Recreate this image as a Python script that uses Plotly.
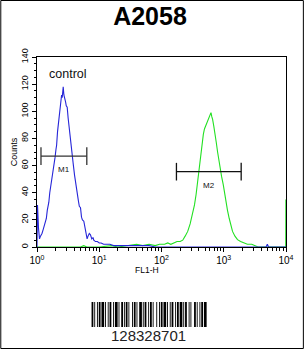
import plotly.graph_objects as go

# ---- data (log10 of FL1-H, counts) ----
control_log = [0.000, 0.008, 0.024, 0.040, 0.056, 0.080, 0.100, 0.112, 0.130, 0.150, 0.165, 0.176,
               0.190, 0.205, 0.219, 0.235, 0.250, 0.272, 0.290, 0.305, 0.315, 0.330, 0.345, 0.352,
               0.365, 0.380, 0.395, 0.405, 0.413, 0.421, 0.432, 0.445, 0.459, 0.470, 0.485, 0.500,
               0.515, 0.528, 0.545, 0.565, 0.580, 0.603, 0.620, 0.645, 0.665, 0.680, 0.699, 0.715,
               0.730, 0.752, 0.770, 0.790, 0.805, 0.820, 0.840, 0.859, 0.880, 0.900, 0.912, 0.940,
               0.970, 1.000, 1.030, 1.070, 1.120, 1.170, 1.230, 1.300, 1.400, 1.500, 1.600, 1.700,
               1.800, 1.900, 2.500, 3.680, 3.700, 3.720, 4.000]
control_counts = [0, 31, 14, 6, 8, 10, 13, 15, 17, 21, 27, 29,
                  33, 40, 44, 50, 55, 58, 66, 72, 75, 85, 92, 95,
                  100, 107, 112, 110, 116, 118, 112, 110, 107, 104, 103, 95,
                  88, 83, 76, 68, 62, 53, 47, 38, 34, 30, 29, 22,
                  20, 19, 14, 10, 6, 8, 10, 9, 6, 7, 5, 4,
                  4, 3, 3, 2, 2, 2, 1, 1, 1, 1, 1, 1,
                  1, 0, 0, 0, 2, 0, 0]

sample_log = [0.0, 0.70, 0.75, 0.80, 1.00, 1.20, 1.30, 1.50, 1.60, 1.70, 1.80, 1.90, 1.968,
              2.05, 2.10, 2.15, 2.208, 2.25, 2.30, 2.341, 2.38, 2.421, 2.46, 2.501, 2.53, 2.555,
              2.575, 2.597, 2.615, 2.635, 2.655, 2.672, 2.69, 2.715, 2.735, 2.757, 2.775, 2.795,
              2.808, 2.821, 2.84, 2.864, 2.88, 2.901, 2.92, 2.944, 2.965, 2.992, 3.01, 3.035,
              3.06, 3.088, 3.115, 3.141, 3.18, 3.221, 3.27, 3.328, 3.38, 3.45, 3.50, 3.55,
              3.996, 3.998]
sample_counts = [0, 0, 1, 0, 0, 1, 0, 1, 2, 1, 2, 1, 2,
                 2, 3, 2, 3, 4, 4, 5, 8, 11.5, 17, 24, 31, 38.5,
                 46, 55.7, 64, 73, 79, 83, 87, 90, 93, 95, 97, 99,
                 96, 94, 89, 83, 77, 70, 64, 58, 52, 46, 40, 34,
                 27, 21, 15, 11.5, 8, 5.4, 4, 3, 2, 2, 1, 0,
                 0, 35]

# marker gates: (log low, log high, count level)
m1_gate = [0.064, 0.80, 67]
m2_gate = [2.24, 3.28, 55.5]
gate_cap = 6.5

x_major = [1, 10, 100, 1000, 10000]
x_major_text = ["10<sup>0</sup>", "10<sup>1</sup>", "10<sup>2</sup>", "10<sup>3</sup>", "10<sup>4</sup>"]
y_major = [0, 20, 40, 60, 80, 100, 120, 140]

barcode_text = "128328701"
barcode_widths = [2, 1, 1, 2, 1, 1, 2, 1, 3, 1, 1, 2, 1, 1, 2, 2, 1, 1, 3, 1, 1, 2, 2, 1, 1, 1,
                  2, 1, 1, 3, 1, 1, 2, 1, 1, 2, 3, 1, 1, 1, 2, 2, 1, 1, 2, 1, 1, 3, 1, 2, 1, 1,
                  2, 1, 3, 1, 1, 2, 1, 1, 2, 2, 1, 1, 2, 1, 3, 1, 1, 1, 2, 2, 1, 1, 1, 3, 2, 1,
                  1, 2, 1, 1, 2, 1, 3]

# ---- figure ----
W, H = 306, 349
L, R, T, B = 37, 288, 57, 247
fig = go.Figure()

fig.add_trace(go.Scatter(x=[10 ** v for v in sample_log], y=sample_counts, mode="lines",
                         line=dict(color="#22e022", width=1.1), hoverinfo="skip"))
fig.add_trace(go.Scatter(x=[10 ** v for v in control_log], y=control_counts, mode="lines",
                         line=dict(color="#2626d8", width=1.1), hoverinfo="skip"))

for gate, col, name, dy in [(m1_gate, "#333333", "M1", 10), (m2_gate, "#111111", "M2", 10)]:
    lo, hi, lev = gate
    fig.add_trace(go.Scatter(x=[10 ** lo, 10 ** hi], y=[lev, lev], mode="lines",
                             line=dict(color=col, width=1.3), hoverinfo="skip"))
    for e in (lo, hi):
        fig.add_trace(go.Scatter(x=[10 ** e, 10 ** e], y=[lev - gate_cap, lev + gate_cap], mode="lines",
                                 line=dict(color=col, width=1.3), hoverinfo="skip"))
    fig.add_annotation(x=(lo + hi) / 2, y=lev - dy, text=name, showarrow=False,
                       xanchor="center", yanchor="middle",
                       font=dict(size=8, color="#111111", family="Liberation Sans"))

fig.add_annotation(x=0.16, y=127.5, text="control", showarrow=False, xanchor="left", yanchor="middle",
                   font=dict(size=12.5, color="#111111", family="Liberation Sans"))

def px_x(px):
    return (px - L) / (R - L)

def px_y(py):
    return (B - py) / (B - T)

shapes = []
# outer border
shapes.append(dict(type="rect", xref="paper", yref="paper",
                   x0=px_x(0.5), x1=px_x(W - 0.5), y0=px_y(H - 0.5), y1=px_y(0.5),
                   line=dict(color="black", width=1), layer="above"))
# barcode
bx = 92.0
total = sum(barcode_widths)
scale = (208 - 92) / total
for i, w in enumerate(barcode_widths):
    ww = w * scale
    if i % 2 == 0:
        shapes.append(dict(type="rect", xref="paper", yref="paper",
                           x0=px_x(bx), x1=px_x(bx + ww), y0=px_y(327), y1=px_y(302),
                           fillcolor="black", line=dict(width=0)))
    bx += ww

fig.add_annotation(xref="paper", yref="paper", x=px_x(149.5), y=px_y(335), text=barcode_text,
                   xanchor="center", yanchor="middle",
                   showarrow=False, font=dict(size=15, color="#222222", family="Liberation Sans"))
fig.add_annotation(xref="paper", yref="paper", x=px_x(148), y=px_y(269.5), text="FL1-H",
                   xanchor="center", yanchor="middle",
                   showarrow=False, font=dict(size=8.5, color="black", family="Liberation Sans"))
fig.add_annotation(xref="paper", yref="paper", x=px_x(14), y=px_y(152), text="Counts",
                   xanchor="center", yanchor="middle",
                   textangle=-90, showarrow=False,
                   font=dict(size=9, color="black", family="Liberation Sans"))

fig.update_layout(
    width=W, height=H,
    margin=dict(l=L, r=W - R, t=T, b=H - B, pad=0),
    paper_bgcolor="white", plot_bgcolor="white",
    showlegend=False,
    shapes=shapes,
    title=dict(text="<b>A2058</b>", x=150 / W, xanchor="center", y=1 - 16 / H, yanchor="middle",
               yref="container", font=dict(size=25, color="black", family="Liberation Sans")),
    xaxis=dict(type="log", range=[0, 4], showgrid=False, zeroline=False,
               showline=True, linecolor="black", linewidth=1, mirror=True,
               tickvals=x_major, ticktext=x_major_text, ticks="outside", ticklen=4,
               tickcolor="black", tickfont=dict(size=10, color="black", family="Liberation Sans"),
               minor=dict(tickvals=[m * 10 ** d for d in range(4) for m in range(2, 10)],
                          ticks="outside", ticklen=2.5, tickcolor="black", showgrid=False)),
    yaxis=dict(range=[0, 140], showgrid=False, zeroline=False,
               showline=True, linecolor="black", linewidth=1, mirror=True,
               tickvals=y_major, ticks="outside", ticklen=4, tickcolor="black", tickangle=-90,
               tickfont=dict(size=9, color="black", family="Liberation Sans"),
               minor=dict(dtick=5, ticks="outside", ticklen=2.5, tickcolor="black", showgrid=False)),
)

fig.write_html("out.html")
